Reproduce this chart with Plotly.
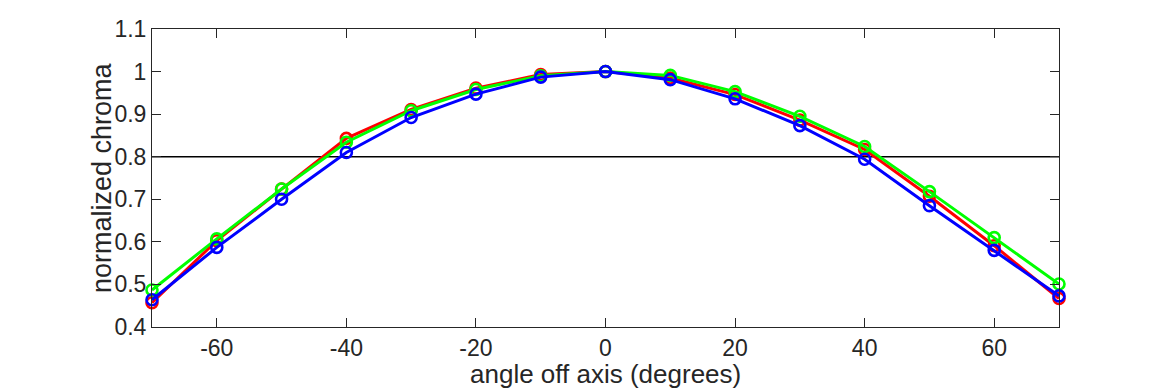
import plotly.graph_objects as go

angles = [-70, -60, -50, -40, -30, -20, -10, 0, 10, 20, 30, 40, 50, 60, 70]
red_vals = [0.457, 0.603, 0.724, 0.843, 0.911, 0.961, 0.993, 1.0, 0.985, 0.946, 0.886, 0.817, 0.707, 0.591, 0.467]
green_vals = [0.487, 0.607, 0.724, 0.834, 0.908, 0.958, 0.990, 1.0, 0.991, 0.953, 0.895, 0.824, 0.718, 0.610, 0.501]
blue_vals = [0.464, 0.587, 0.700, 0.810, 0.892, 0.947, 0.987, 1.0, 0.981, 0.936, 0.873, 0.794, 0.685, 0.580, 0.473]

x_ticks = [-60, -40, -20, 0, 20, 40, 60]
x_tick_text = ["-60", "-40", "-20", "0", "20", "40", "60"]
y_ticks = [0.4, 0.5, 0.6, 0.7, 0.8, 0.9, 1.0, 1.1]
y_tick_text = ["0.4", "0.5", "0.6", "0.7", "0.8", "0.9", "1", "1.1"]
threshold = 0.8
x_title = "angle off axis (degrees)"
y_title = "normalized chroma"

series = [("red", red_vals, "#ff0000"), ("green", green_vals, "#00ff00"), ("blue", blue_vals, "#0000ff")]

fig = go.Figure()
for name, vals, col in series:
    fig.add_trace(go.Scatter(
        x=angles, y=vals, mode="lines+markers", name=name,
        line=dict(color=col, width=3),
        marker=dict(symbol="circle-open", size=11, color=col, line=dict(width=2.6, color=col)),
        cliponaxis=False,
    ))

fig.add_shape(type="line", xref="paper", yref="y", x0=0, x1=1, y0=threshold, y1=threshold,
              line=dict(color="black", width=1.5), layer="below")

font_family = "Liberation Sans, Arial, Helvetica, sans-serif"
axis_color = "#262626"

fig.update_layout(
    width=1170, height=390,
    margin=dict(l=152, r=111, t=29, b=63, autoexpand=False),
    paper_bgcolor="white", plot_bgcolor="white",
    showlegend=False,
    font=dict(family=font_family, color=axis_color),
)
fig.add_annotation(text=x_title, xref="paper", yref="paper", x=0.5, y=0, xanchor="center",
                   yanchor="middle", yshift=-47, showarrow=False, font=dict(size=26, color=axis_color))
fig.add_annotation(text=y_title, xref="paper", yref="paper", x=0, y=0.5, xanchor="center",
                   yanchor="middle", xshift=-50, textangle=-90, showarrow=False,
                   font=dict(size=27, color=axis_color))
fig.update_xaxes(
    range=[-70, 70], tickvals=x_ticks, ticktext=x_tick_text, ticks="inside", ticklen=9, tickwidth=1,
    tickcolor=axis_color, showline=True, linecolor=axis_color, linewidth=1, mirror="ticks",
    showgrid=False, zeroline=False,
    tickfont=dict(size=23, color=axis_color),
    automargin=False,
)
fig.update_yaxes(
    range=[0.4, 1.1], tickvals=y_ticks, ticktext=y_tick_text, ticks="inside", ticklen=9, tickwidth=1,
    tickcolor=axis_color, showline=True, linecolor=axis_color, linewidth=1, mirror="ticks",
    showgrid=False, zeroline=False,
    tickfont=dict(size=23, color=axis_color),
    automargin=False,
)

fig.write_html("out.html", config={"displayModeBar": False},
               post_script="document.body.style.margin='0';document.body.style.overflow='hidden';")
